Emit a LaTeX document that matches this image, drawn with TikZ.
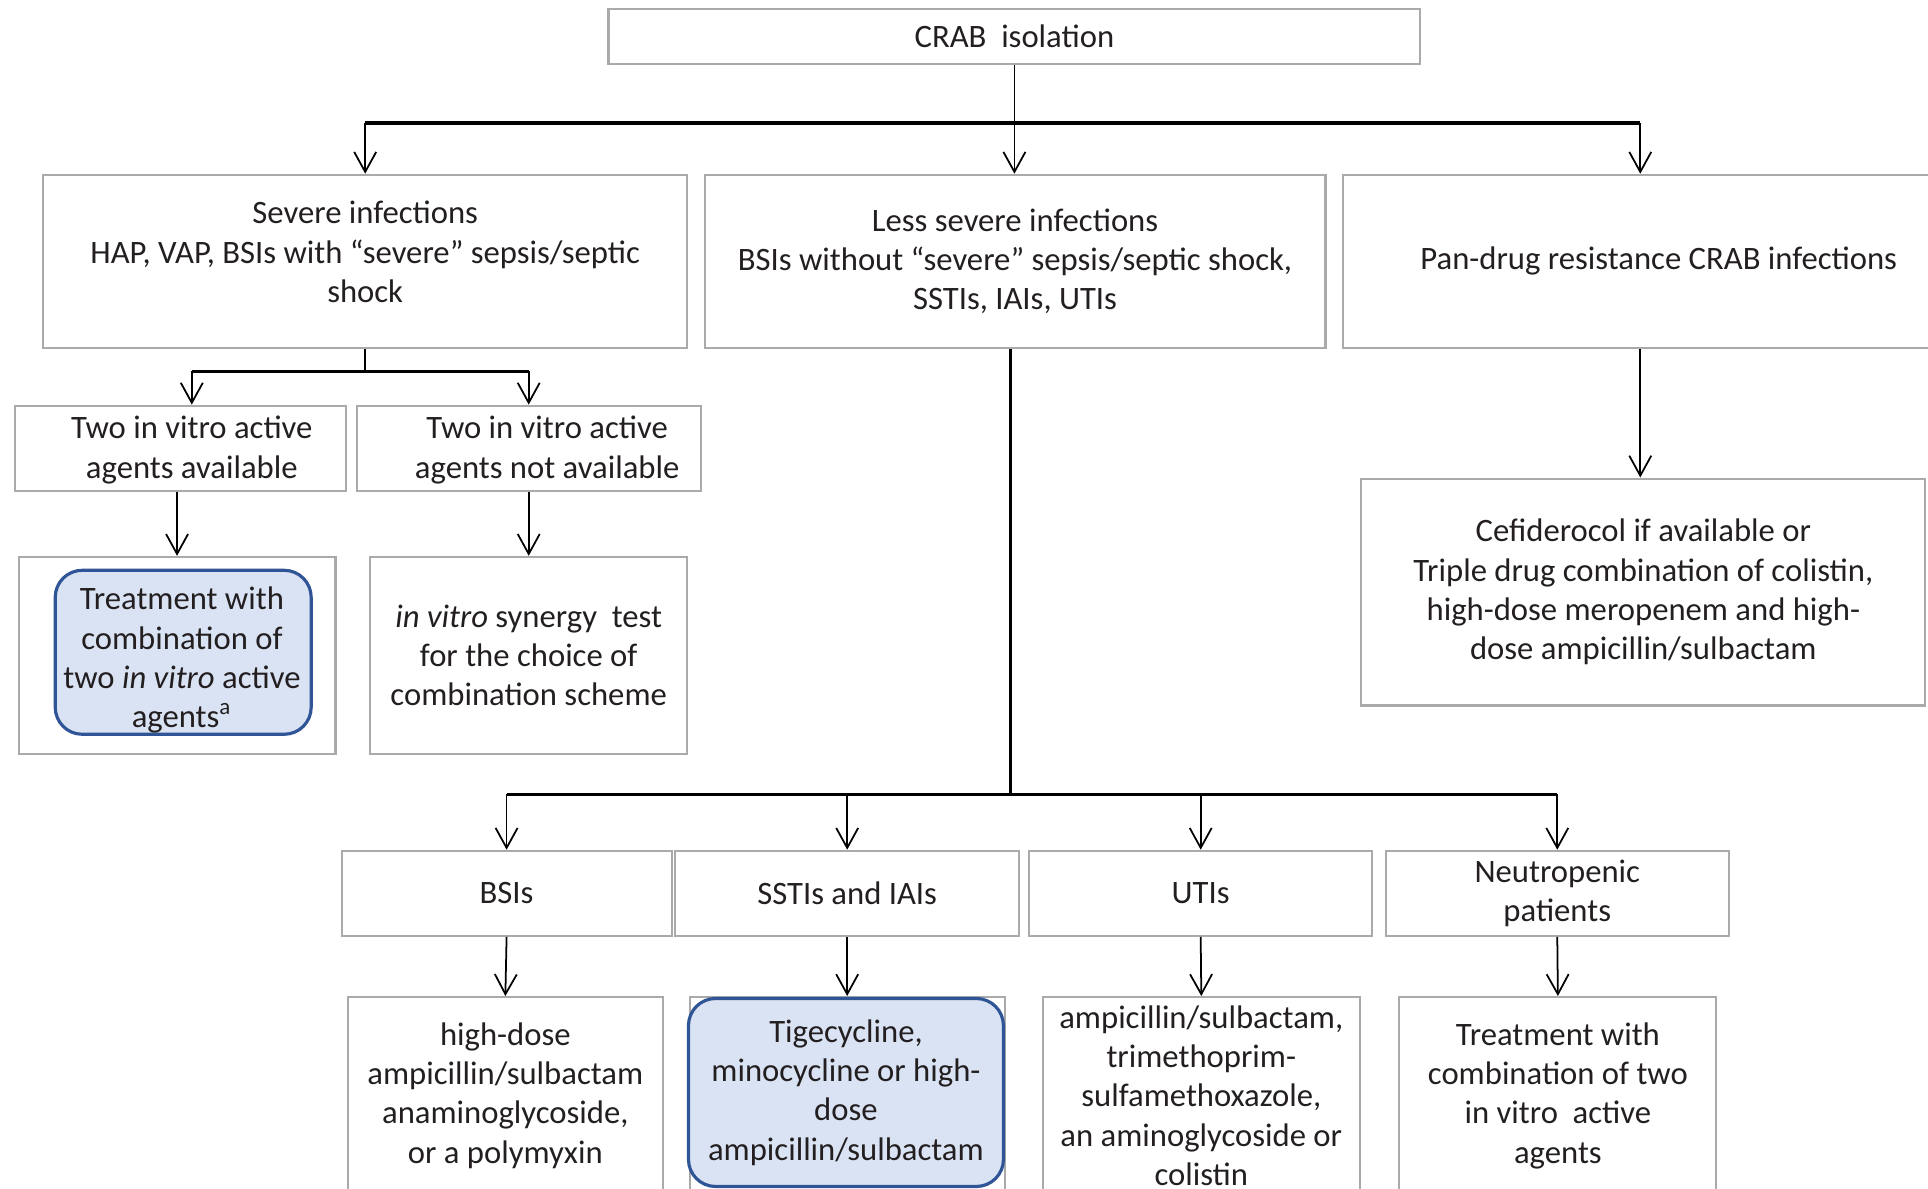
\documentclass[tikz,border=0pt]{standalone}
\usepackage{fontspec}
\setmainfont{Carlito}
\usetikzlibrary{arrows.meta}

\definecolor{boxgray}{RGB}{170,170,170}
\definecolor{txtgray}{RGB}{35,31,32}
\definecolor{hlfill}{RGB}{218,227,243}
\definecolor{hldraw}{RGB}{47,85,151}

\tikzset{
  box/.style={draw=boxgray, line width=0.6pt, align=center, inner sep=1pt,
    text=txtgray, font=\fontsize{9.3}{11.2}\selectfont},
  txt/.style={align=center, inner sep=1pt, text=txtgray, font=\fontsize{9.3}{11.2}\selectfont},
  hlbox/.style={box, draw=hldraw, fill=hlfill, line width=0.9pt, rounded corners=0.27cm},
  arr/.style={line width=0.5pt, -{Straight Barb[length=2mm,width=2.2mm]}},
  bus/.style={line width=0.9pt},
}

\begin{document}
\begin{tikzpicture}[x=0.012296cm, y=-0.012296cm]
        \useasboundingbox (0,0) rectangle (1568,967);
        \clip (0,0) rectangle (1568,967);
        
        % first row
        \node[box, minimum width=8.12cm, minimum height=0.55cm] (crab) at (825,29.5) {CRAB\ \ isolation};
        
        \node[box, minimum width=6.44cm, minimum height=1.73cm] (severe) at (297,212.5) {};
        \node[txt] (severetxt) at (297,205)
            {Severe infections\\HAP, VAP, BSIs with “severe” sepsis/septic\\shock};
        \node[box, minimum width=6.21cm, minimum height=1.73cm] (less) at (825.5,212.5)
            {Less severe infections\\BSIs without “severe” sepsis/septic shock,\\SSTIs, IAIs, UTIs};
        \node[box, minimum width=6.32cm, minimum height=1.73cm] (pan) at (1349,212.5)
            {Pan-drug resistance CRAB infections};
        
        % severe branch
        \node[box, minimum width=3.31cm, minimum height=0.85cm] (avail) at (146.5,364.5) {};
        \node[txt] (availtxt) at (156,366) {Two in vitro active\\agents available};
        \node[box, minimum width=3.44cm, minimum height=0.85cm] (notavail) at (430,364.5) {};
        \node[txt] (notavailtxt) at (445,366) {Two in vitro active\\agents not available};
        
        \node[box, minimum width=3.17cm, minimum height=1.97cm] (treatbox) at (144,533) {};
        \node[hlbox, minimum width=2.56cm, minimum height=1.64cm] (treat) at (149,530.5) {};
        \node[txt] (treattxt) at (148,537)
            {Treatment with\\combination of\\two \textit{in vitro} active\\agents\textsuperscript{a}};
        \node[box, minimum width=3.17cm, minimum height=1.97cm] (synergy) at (430,533)
            {\textit{in vitro} synergy\ \ test\\for the choice of\\combination scheme};
        
        % pan-drug branch
        \node[box, minimum width=5.64cm, minimum height=2.27cm] (cefid) at (1336.5,481.5)
            {Cefiderocol if available or\\Triple drug combination of colistin,\\high-dose meropenem and high-\\dose ampicillin/sulbactam};
        
        % less severe branch
        \node[box, minimum width=3.30cm, minimum height=0.85cm] (bsi) at (412,726.5) {BSIs};
        \node[box, minimum width=3.44cm, minimum height=0.85cm] (ssti) at (689,726.5) {SSTIs and IAIs};
        \node[box, minimum width=3.43cm, minimum height=0.85cm] (uti) at (976.5,726.5) {UTIs};
        \node[box, minimum width=3.43cm, minimum height=0.85cm] (neut) at (1266.5,726.5) {Neutropenic\\patients};
        
        \node[box, minimum width=3.15cm, minimum height=1.97cm] (hd) at (411,891)
            {high-dose\\ampicillin/sulbactam\\anaminoglycoside,\\or a polymyxin};
        \node[box, minimum width=3.15cm, minimum height=1.97cm] (tigbox) at (689,891) {};
        \node[hlbox, minimum width=3.15cm, minimum height=1.88cm] (tig) at (688,888.5)
            {Tigecycline,\\minocycline or high-\\dose\\ampicillin/sulbactam};
        \node[box, minimum width=3.17cm, minimum height=1.97cm] (utirx) at (977,891)
            {ampicillin/sulbactam,\\trimethoprim-\\sulfamethoxazole,\\an aminoglycoside or\\colistin};
        \node[box, minimum width=3.17cm, minimum height=1.97cm] (neutrx) at (1267,891)
            {Treatment with\\combination of two\\in vitro\ \ active\\agents};
        
        % connectors from the top
        \coordinate (tb1) at (297,100);
        \coordinate (tb3) at (1334,100);
        \draw[bus] (tb1) -- (tb3);
        \draw[arr] (crab.south) -- (crab.south |- less.north);
        \draw[arr] (tb1) -- (tb1 |- severe.north);
        \draw[arr] (tb3) -- (tb3 |- pan.north);
        
        \coordinate (sb1) at (156,302);
        \coordinate (sb2) at (430,302);
        \draw[line width=0.5pt] (severe.south) -- (severe.south |- sb1);
        \draw[bus] (sb1) -- (sb2);
        \draw[arr] (sb1) -- (sb1 |- avail.north);
        \draw[arr] (sb2) -- (sb2 |- notavail.north);
        \draw[arr] (treatbox.north |- avail.south) -- (treatbox.north);
        \draw[arr] (notavail.south) -- (synergy.north);
        
        \draw[arr] (tb3 |- pan.south) -- (tb3 |- cefid.north);
        
        \coordinate (lb) at (822,646);
        \draw[bus] (lb |- less.south) -- (lb);
        \draw[bus] (bsi.north |- lb) -- (neut.north |- lb);
        \foreach \n in {bsi,ssti,uti,neut}
        \draw[arr] (\n.north |- lb) -- (\n.north);
        
        \draw[arr] (bsi.south) -- (hd.north);
        \draw[arr] (ssti.south) -- (tigbox.north);
        \draw[arr] (uti.south) -- (utirx.north);
        \draw[arr] (neut.south) -- (neutrx.north);
        
    \end{tikzpicture}
\end{document}
